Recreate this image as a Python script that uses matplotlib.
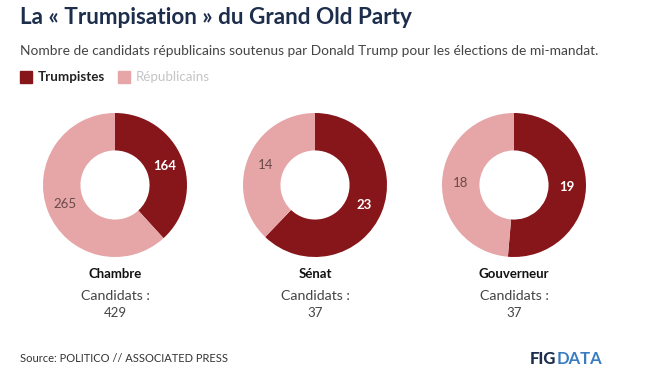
import matplotlib.pyplot as plt
import numpy as np

chambers = ["Chambre", "Sénat", "Gouverneur"]
trumpistes = [164, 23, 19]
republicains = [265, 14, 18]
totals = [429, 37, 37]

DARK = "#87161b"
PINK = "#e6a5a6"
NAVY = "#1d2d4c"
GREY = "#444444"

W, H = 650, 382
plt.rcParams['font.family'] = ['Lato', 'DejaVu Sans']

fig = plt.figure(figsize=(W / 100, H / 100), dpi=100)
fig.patch.set_facecolor("white")


def px(x, y):
    return x / W, 1 - y / H


def txt(x, y, s, **kw):
    return fig.text(*px(x, y), s, **kw)


txt(20, 18, "La « Trumpisation » du Grand Old Party", fontsize=16.2,
    fontweight="bold", color=NAVY, va="center")
txt(20, 51, "Nombre de candidats républicains soutenus par Donald Trump pour les élections de mi-mandat.",
    fontsize=9.9, color=GREY, va="center")

# legend
fig.patches.append(plt.Rectangle(px(20, 83), 12 / W, 12 / H, transform=fig.transFigure,
                                 color=DARK, figure=fig))
txt(38, 77, "Trumpistes", fontsize=9.6, fontweight="bold", color="#222222", va="center")
fig.patches.append(plt.Rectangle(px(118, 83), 12 / W, 12 / H, transform=fig.transFigure,
                                 color=PINK, figure=fig))
txt(136, 77, "Républicains", fontsize=9.6, color="#c4c4c4", va="center")

centers = [115, 315, 514]
cy, r = 185, 72
inner = 0.48

for cx, name, t, rep, tot in zip(centers, chambers, trumpistes, republicains, totals):
    ax = fig.add_axes([(cx - r) / W, 1 - (cy + r) / H, 2 * r / W, 2 * r / H])
    ax.pie([t, rep], colors=[DARK, PINK], startangle=90, counterclock=False,
           radius=1, wedgeprops=dict(width=1 - inner, linewidth=0))
    ax.set_xlim(-1, 1)
    ax.set_ylim(-1, 1)
    ax.set_aspect("equal")
    ax.axis("off")
    rm = (1 + inner) / 2
    frac_t = t / (t + rep)
    a1 = np.pi / 2 - np.pi * frac_t
    a2 = np.pi / 2 - 2 * np.pi * frac_t - np.pi * (1 - frac_t)
    ax.text(rm * np.cos(a1), rm * np.sin(a1), str(t), color="white",
            fontsize=9.5, fontweight="bold", ha="center", va="center")
    ax.text(rm * np.cos(a2), rm * np.sin(a2), str(rep), color="#6b4a4a",
            fontsize=9.5, ha="center", va="center")

    txt(cx, 274, name, fontsize=9.5, fontweight="bold", color="#111111", ha="center", va="center")
    txt(cx, 296, "Candidats :", fontsize=10.2, color=GREY, ha="center", va="center")
    txt(cx, 313, str(tot), fontsize=9.5, color=GREY, ha="center", va="center")

txt(20, 359, "Source: POLITICO // ASSOCIATED PRESS", fontsize=8.0, color="#333333", va="center")

# FIGDATA logo: two colours side by side
fig_part = txt(530, 359, "FIG", fontsize=12, fontweight="black", color=NAVY, va="center")
fig.canvas.draw()
bb = fig_part.get_window_extent()
fig.text(bb.x1 / W, 1 - 359 / H, "DATA", fontsize=12, fontweight="bold",
         color="#3a7cc2", va="center")

fig.savefig("out.png", dpi=100, facecolor="white")
